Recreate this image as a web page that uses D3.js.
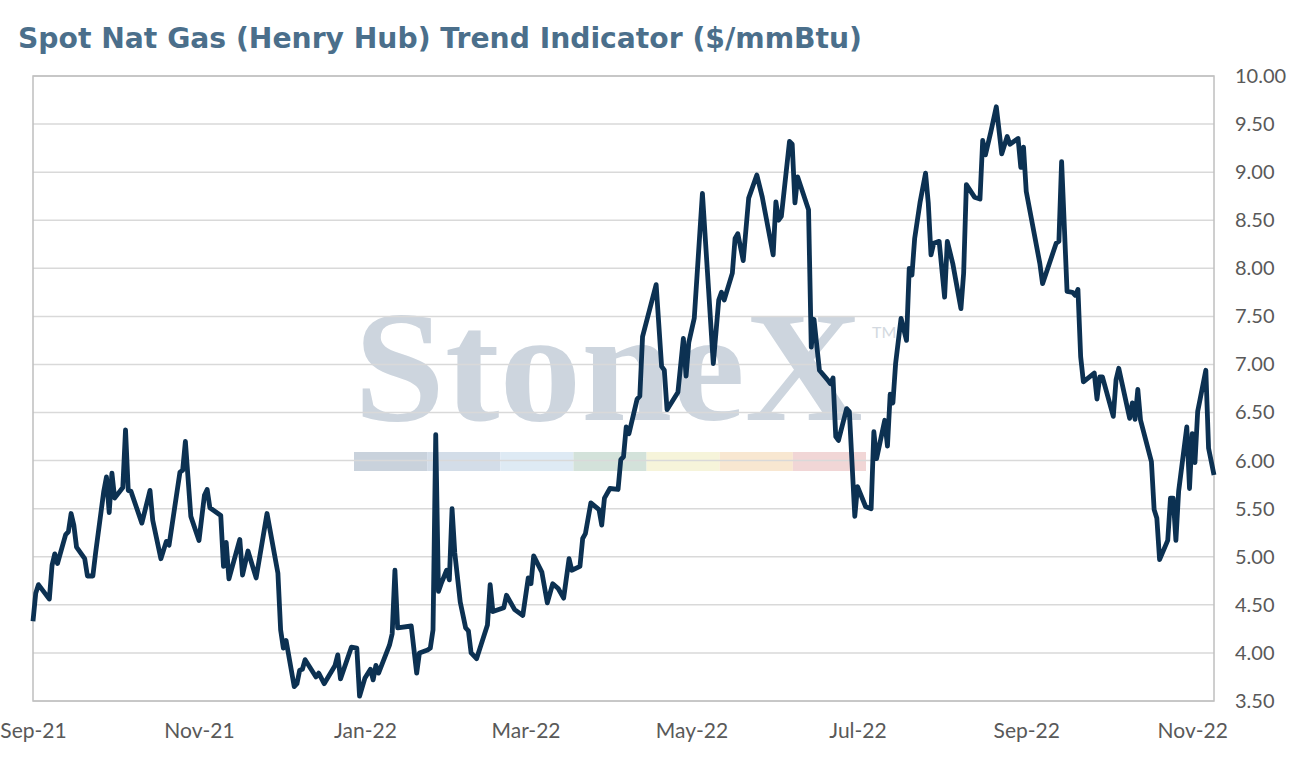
<!DOCTYPE html>
<html lang="en">
<head>
  <meta charset="UTF-8">
  <title>Spot Nat Gas (Henry Hub) Trend Indicator</title>
  <style>
    body, html {
      margin: 0;
      padding: 0;
      background-color: #ffffff;
    }
    #svg {
      display: block;
    }
  </style>
</head>
<body>
  <svg id="svg" width="1292" height="762"></svg>
  <script src="https://d3js.org/d3.v7.min.js"></script>
  <script>
    const title = 'Spot Nat Gas (Henry Hub) Trend Indicator ($/mmBtu)'

    // daily spot points
    const dates = [
      '2021-09-01','2021-09-02','2021-09-03','2021-09-07','2021-09-08','2021-09-09','2021-09-10','2021-09-13','2021-09-14','2021-09-15',
      '2021-09-16','2021-09-17','2021-09-20','2021-09-21','2021-09-23','2021-09-24','2021-09-27','2021-09-28','2021-09-29','2021-09-30',
      '2021-10-01','2021-10-04','2021-10-05','2021-10-06','2021-10-07','2021-10-11','2021-10-14','2021-10-15','2021-10-18','2021-10-20',
      '2021-10-21','2021-10-25','2021-10-26','2021-10-27','2021-10-29','2021-11-01','2021-11-03','2021-11-04','2021-11-05','2021-11-09',
      '2021-11-10','2021-11-11','2021-11-12','2021-11-16','2021-11-17','2021-11-19','2021-11-22','2021-11-26','2021-11-30','2021-12-01',
      '2021-12-02','2021-12-03','2021-12-06','2021-12-07','2021-12-08','2021-12-09','2021-12-10','2021-12-14','2021-12-15','2021-12-17',
      '2021-12-21','2021-12-22','2021-12-23','2021-12-27','2021-12-29','2021-12-30','2022-01-01','2022-01-03','2022-01-04','2022-01-05',
      '2022-01-06','2022-01-10','2022-01-11','2022-01-12','2022-01-13','2022-01-18','2022-01-20','2022-01-21','2022-01-24','2022-01-25',
      '2022-01-26','2022-01-27','2022-01-28','2022-01-29','2022-01-31','2022-02-01','2022-02-02','2022-02-03','2022-02-05','2022-02-07',
      '2022-02-08','2022-02-09','2022-02-11','2022-02-15','2022-02-16','2022-02-17','2022-02-21','2022-02-22','2022-02-25','2022-02-28',
      '2022-03-02','2022-03-03','2022-03-04','2022-03-07','2022-03-09','2022-03-11','2022-03-13','2022-03-15','2022-03-17','2022-03-18',
      '2022-03-21','2022-03-22','2022-03-23','2022-03-25','2022-03-28','2022-03-29','2022-03-30','2022-04-01','2022-04-04','2022-04-05',
      '2022-04-06','2022-04-07','2022-04-08','2022-04-11','2022-04-12','2022-04-13','2022-04-18','2022-04-20','2022-04-21','2022-04-22',
      '2022-04-26','2022-04-28','2022-04-29','2022-04-30','2022-05-02','2022-05-05','2022-05-09','2022-05-11','2022-05-12','2022-05-13',
      '2022-05-16','2022-05-17','2022-05-18','2022-05-20','2022-05-22','2022-05-25','2022-05-27','2022-05-31','2022-06-01','2022-06-02',
      '2022-06-03','2022-06-06','2022-06-07','2022-06-08','2022-06-09','2022-06-13','2022-06-14','2022-06-15','2022-06-17','2022-06-20',
      '2022-06-21','2022-06-22','2022-06-23','2022-06-24','2022-06-27','2022-06-28','2022-06-30','2022-07-01','2022-07-04','2022-07-06',
      '2022-07-07','2022-07-08','2022-07-11','2022-07-12','2022-07-13','2022-07-14','2022-07-15','2022-07-17','2022-07-19','2022-07-20',
      '2022-07-21','2022-07-22','2022-07-24','2022-07-26','2022-07-27','2022-07-28','2022-07-29','2022-07-31','2022-08-02','2022-08-03',
      '2022-08-05','2022-08-08','2022-08-09','2022-08-10','2022-08-13','2022-08-15','2022-08-16','2022-08-17','2022-08-19','2022-08-21',
      '2022-08-23','2022-08-25','2022-08-26','2022-08-29','2022-08-30','2022-08-31','2022-09-01','2022-09-06','2022-09-07','2022-09-12',
      '2022-09-13','2022-09-14','2022-09-16','2022-09-18','2022-09-19','2022-09-20','2022-09-21','2022-09-22','2022-09-26','2022-09-27',
      '2022-09-28','2022-09-29','2022-10-03','2022-10-04','2022-10-05','2022-10-07','2022-10-09','2022-10-10','2022-10-11','2022-10-12',
      '2022-10-13','2022-10-17','2022-10-18','2022-10-19','2022-10-20','2022-10-23','2022-10-24','2022-10-25','2022-10-26','2022-10-27',
      '2022-10-30','2022-10-31','2022-11-01','2022-11-02','2022-11-03','2022-11-06','2022-11-07','2022-11-09'
    ]
    const prices = [
      4.33, 4.62, 4.71, 4.56, 4.91, 5.03, 4.93, 5.23, 5.26, 5.45,
      5.33, 5.10, 4.98, 4.80, 4.80, 5.04, 5.68, 5.83, 5.46, 5.87,
      5.61, 5.72, 6.32, 5.69, 5.68, 5.35, 5.69, 5.38, 4.98, 5.16,
      5.12, 5.88, 5.90, 6.20, 5.42, 5.17, 5.64, 5.70, 5.51, 5.43,
      4.90, 5.15, 4.77, 5.18, 4.81, 5.06, 4.78, 5.45, 4.83, 4.24,
      4.05, 4.13, 3.65, 3.68, 3.82, 3.83, 3.93, 3.75, 3.79, 3.68,
      3.87, 3.98, 3.73, 4.06, 4.05, 3.55, 3.74, 3.83, 3.72, 3.87,
      3.79, 4.08, 4.20, 4.86, 4.26, 4.28, 3.79, 4.00, 4.03, 4.05,
      4.24, 6.27, 4.64, 4.72, 4.86, 4.76, 5.50, 5.04, 4.53, 4.26,
      4.23, 4.00, 3.94, 4.29, 4.71, 4.43, 4.47, 4.60, 4.45, 4.39,
      4.78, 4.72, 5.01, 4.84, 4.52, 4.72, 4.67, 4.57, 4.98, 4.86,
      4.90, 5.19, 5.24, 5.56, 5.49, 5.33, 5.61, 5.71, 5.70, 6.01,
      6.04, 6.35, 6.28, 6.64, 6.67, 7.29, 7.83, 6.98, 6.94, 6.53,
      6.71, 7.27, 6.88, 7.23, 7.48, 8.78, 7.01, 7.67, 7.75, 7.67,
      7.95, 8.31, 8.36, 8.08, 8.73, 8.97, 8.74, 8.14, 8.69, 8.50,
      8.54, 9.32, 9.29, 8.68, 8.95, 8.61, 7.18, 7.47, 6.94, 6.84,
      6.80, 6.86, 6.25, 6.21, 6.54, 6.51, 5.42, 5.73, 5.52, 5.50,
      6.30, 6.02, 6.42, 6.15, 6.69, 6.60, 7.01, 7.48, 7.25, 8.00,
      7.93, 8.31, 8.69, 8.99, 8.68, 8.14, 8.26, 8.28, 7.70, 8.28,
      8.05, 7.58, 7.95, 8.87, 8.74, 8.72, 9.33, 9.18, 9.42, 9.68,
      9.19, 9.37, 9.29, 9.35, 9.05, 9.26, 8.80, 8.05, 7.84, 8.26,
      8.28, 9.11, 7.76, 7.75, 7.72, 7.78, 7.08, 6.82, 6.91, 6.64,
      6.87, 6.87, 6.46, 6.84, 6.96, 6.70, 6.44, 6.60, 6.43, 6.74,
      6.42, 5.99, 5.49, 5.40, 4.97, 5.17, 5.61, 5.61, 5.17, 5.68,
      6.35, 5.71, 6.28, 5.98, 6.51, 6.94, 6.13, 5.85
    ]

    const yTicks = [3.5, 4, 4.5, 5, 5.5, 6, 6.5, 7, 7.5, 8, 8.5, 9, 9.5, 10]
    const xTicks = ['2021-09-01', '2021-11-01', '2022-01-01', '2022-03-01', '2022-05-01', '2022-07-01', '2022-09-01', '2022-11-01']
    const xDomain = ['2021-09-01', '2022-11-09']

    const watermarkBands = ['#c9d2dc', '#d3dde8', '#deeaf4', '#d3e2da', '#f6f4da', '#f8e7d1', '#f1d6d6']

    const parse = d3.timeParse('%Y-%m-%d')
    const data = dates.map((d, i) => ({ date: parse(d), value: prices[i] }))

    const plotLeft = 33
    const plotRight = 1214
    const plotTop = 76
    const plotBottom = 701
    const font = 'Lato, "Open Sans", sans-serif'

    const xScale = d3.scaleTime()
      .domain(xDomain.map(parse))
      .range([plotLeft, plotRight])
    const yScale = d3.scaleLinear()
      .domain([3.5, 10])
      .range([plotBottom, plotTop])

    const svg = d3.select('#svg')

    svg.append('text')
      .attr('x', 18)
      .attr('y', 48)
      .attr('textLength', 844)
      .attr('lengthAdjust', 'spacingAndGlyphs')
      .text(title)
      .style('font-family', '"DejaVu Sans", sans-serif')
      .style('font-weight', 'bold')
      .style('font-size', '28px')
      .style('fill', '#4b6f8b')

    // watermark sits under the grid
    const wm = svg.append('g')
    wm.append('text')
      .attr('x', 354)
      .attr('y', 420)
      .attr('textLength', 509)
      .attr('lengthAdjust', 'spacingAndGlyphs')
      .text('StoneX')
      .style('font-family', '"Liberation Serif", "DejaVu Serif", serif')
      .style('font-weight', 'bold')
      .style('font-size', '158px')
      .style('fill', '#cdd5de')
    wm.append('text')
      .attr('x', 872)
      .attr('y', 338)
      .text('TM')
      .style('font-family', font)
      .style('font-size', '16px')
      .style('fill', '#d3d9e0')
    const bandScale = d3.scaleBand()
      .domain(d3.range(watermarkBands.length))
      .range([354, 866])
    wm.selectAll('rect')
      .data(watermarkBands)
      .enter()
      .append('rect')
      .attr('x', (d, i) => bandScale(i))
      .attr('y', 452)
      .attr('width', bandScale.bandwidth())
      .attr('height', 19)
      .attr('fill', d => d)

    // gridlines
    svg.append('g')
      .selectAll('line')
      .data(yTicks)
      .enter()
      .append('line')
      .attr('x1', plotLeft)
      .attr('x2', plotRight)
      .attr('y1', d => yScale(d))
      .attr('y2', d => yScale(d))
      .attr('stroke', '#d9d9d9')
      .attr('stroke-width', 1.5)

    // plot frame
    svg.append('rect')
      .attr('x', plotLeft)
      .attr('y', plotTop)
      .attr('width', plotRight - plotLeft)
      .attr('height', plotBottom - plotTop)
      .attr('fill', 'none')
      .attr('stroke', '#bfbfbf')
      .attr('stroke-width', 1.5)

    const line = d3.line()
      .x(d => xScale(d.date))
      .y(d => yScale(d.value))

    svg.append('path')
      .datum(data)
      .attr('d', line)
      .attr('fill', 'none')
      .attr('stroke', '#0c3152')
      .attr('stroke-width', 4.8)
      .attr('stroke-linejoin', 'round')

    const rightAxis = d3.axisRight(yScale)
      .tickValues(yTicks)
      .tickFormat(d3.format('.2f'))
      .tickSize(0)
      .tickPadding(21)
    svg.append('g')
      .attr('transform', `translate(${plotRight}, 0)`)
      .call(rightAxis)
      .call(g => g.select('.domain').remove())
      .selectAll('text')
      .style('font-family', font)
      .style('font-size', '20px')
      .style('fill', '#595959')

    const bottomAxis = d3.axisBottom(xScale)
      .tickValues(xTicks.map(parse))
      .tickFormat(d3.timeFormat('%b-%y'))
      .tickSize(0)
      .tickPadding(22)
    svg.append('g')
      .attr('transform', `translate(0, ${plotBottom})`)
      .call(bottomAxis)
      .call(g => g.select('.domain').remove())
      .selectAll('text')
      .style('font-family', font)
      .style('font-size', '21px')
      .style('fill', '#595959')
  </script>
</body>
</html>
